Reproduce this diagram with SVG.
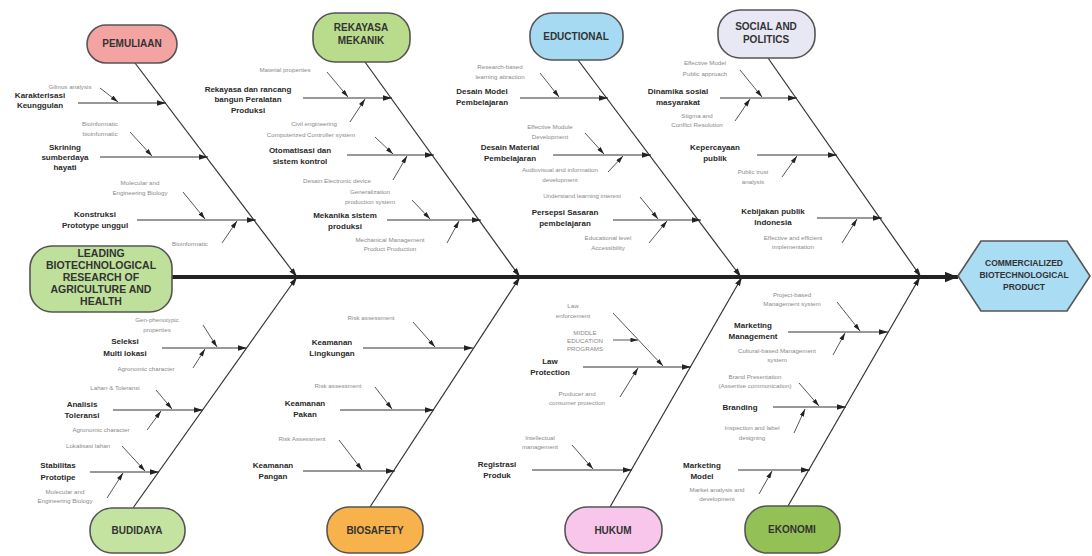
<svg xmlns="http://www.w3.org/2000/svg" width="1092" height="556" viewBox="0 0 1092 556">
<style>
.cat{stroke:#333;stroke-width:1.2;fill:none;marker-end:url(#ah)}
.bone{stroke:#333;stroke-width:1;fill:none;marker-end:url(#ah)}
.sub{stroke:#444;stroke-width:0.9;fill:none;marker-end:url(#as)}
.lbl{font-family:"Liberation Sans",Arial,sans-serif;font-weight:bold;font-size:8px;fill:#2a2a2a;text-anchor:middle}
.sl{font-family:"Liberation Sans",Arial,sans-serif;font-size:6.2px;fill:#8a8a8a;text-anchor:middle}
.nt{font-family:"Liberation Sans",Arial,sans-serif;font-weight:bold;font-size:10px;fill:#333;text-anchor:middle}
.node{stroke:#555;stroke-width:1.6}
</style>
<defs>
<marker id="ah" viewBox="0 0 10 6" refX="10" refY="3" markerWidth="9" markerHeight="5.4" markerUnits="userSpaceOnUse" orient="auto"><path d="M0,0L10,3L0,6z" fill="#222"/></marker>
<marker id="as" viewBox="0 0 10 6" refX="10" refY="3" markerWidth="8" markerHeight="4.5" markerUnits="userSpaceOnUse" orient="auto"><path d="M0,0L10,3L0,6z" fill="#222"/></marker>
<marker id="sp" viewBox="0 0 10 8" refX="10" refY="4" markerWidth="13" markerHeight="11" markerUnits="userSpaceOnUse" orient="auto"><path d="M0,0L10,4L0,8z" fill="#222"/></marker>
</defs>
<rect width="1092" height="556" fill="#fff"/>

<g id="connectors">
<line x1="172" y1="277" x2="958" y2="277" stroke="#222" stroke-width="4" marker-end="url(#sp)"/>
<line class="cat" x1="135" y1="63" x2="297" y2="277"/>
<line class="cat" x1="365" y1="62" x2="520" y2="277"/>
<line class="cat" x1="578" y1="60" x2="741" y2="277"/>
<line class="cat" x1="768" y1="58" x2="921" y2="277"/>
<line class="cat" x1="133" y1="508" x2="297" y2="277"/>
<line class="cat" x1="370" y1="507" x2="520" y2="277"/>
<line class="cat" x1="610" y1="507" x2="742" y2="277"/>
<line class="cat" x1="788" y1="506" x2="920" y2="277"/>

<line class="bone" x1="78" y1="103" x2="166" y2="103"/>
<line class="bone" x1="100" y1="157" x2="208" y2="157"/>
<line class="bone" x1="137" y1="220" x2="256" y2="220"/>
<line class="sub" x1="100" y1="88" x2="118" y2="102"/>
<line class="sub" x1="130" y1="132" x2="152" y2="156"/>
<line class="sub" x1="183" y1="192" x2="205" y2="219"/>
<line class="sub" x1="222" y1="243" x2="237" y2="221"/>

<line class="bone" x1="303" y1="98" x2="392" y2="98"/>
<line class="bone" x1="347" y1="155" x2="434" y2="155"/>
<line class="bone" x1="387" y1="220" x2="481" y2="220"/>
<line class="sub" x1="327" y1="72" x2="348" y2="97"/>
<line class="sub" x1="350" y1="122" x2="365" y2="99"/>
<line class="sub" x1="375" y1="137" x2="393" y2="154"/>
<line class="sub" x1="393" y1="180" x2="407" y2="156"/>
<line class="sub" x1="412" y1="200" x2="430" y2="219"/>
<line class="sub" x1="447" y1="243" x2="459" y2="221"/>

<line class="bone" x1="520" y1="98" x2="608" y2="98"/>
<line class="bone" x1="553" y1="155" x2="651" y2="155"/>
<line class="bone" x1="613" y1="220" x2="701" y2="220"/>
<line class="sub" x1="540" y1="73" x2="559" y2="97"/>
<line class="sub" x1="585" y1="133" x2="604" y2="154"/>
<line class="sub" x1="608" y1="172" x2="623" y2="156"/>
<line class="sub" x1="640" y1="197" x2="658" y2="219"/>
<line class="sub" x1="649" y1="243" x2="667" y2="221"/>

<line class="bone" x1="720" y1="98" x2="797" y2="98"/>
<line class="bone" x1="757" y1="155" x2="837" y2="155"/>
<line class="bone" x1="817" y1="218" x2="882" y2="218"/>
<line class="sub" x1="740" y1="70" x2="762" y2="97"/>
<line class="sub" x1="735" y1="121" x2="750" y2="99"/>
<line class="sub" x1="782" y1="177" x2="797" y2="156"/>
<line class="sub" x1="842" y1="243" x2="857" y2="219"/>

<line class="bone" x1="162" y1="348" x2="247" y2="348"/>
<line class="bone" x1="113" y1="410" x2="203" y2="410"/>
<line class="bone" x1="90" y1="472" x2="159" y2="472"/>
<line class="sub" x1="203" y1="325" x2="217" y2="347"/>
<line class="sub" x1="193" y1="368" x2="205" y2="349"/>
<line class="sub" x1="156" y1="390" x2="172" y2="409"/>
<line class="sub" x1="147" y1="430" x2="161" y2="411"/>
<line class="sub" x1="122" y1="446" x2="145" y2="471"/>
<line class="sub" x1="107" y1="498" x2="123" y2="473"/>

<line class="bone" x1="363" y1="348" x2="473" y2="348"/>
<line class="bone" x1="340" y1="410" x2="434" y2="410"/>
<line class="bone" x1="303" y1="471" x2="395" y2="471"/>
<line class="sub" x1="413" y1="322" x2="435" y2="347"/>
<line class="sub" x1="375" y1="387" x2="392" y2="409"/>
<line class="sub" x1="339" y1="440" x2="362" y2="470"/>

<line class="bone" x1="583" y1="367" x2="691" y2="367"/>
<line class="bone" x1="532" y1="470" x2="632" y2="470"/>
<line class="sub" x1="613" y1="313" x2="663" y2="366"/>
<line class="sub" x1="613" y1="340" x2="638" y2="340"/>
<line class="sub" x1="620" y1="397" x2="638" y2="368"/>
<line class="sub" x1="572" y1="445" x2="593" y2="469"/>

<line class="bone" x1="788" y1="332" x2="888" y2="332"/>
<line class="bone" x1="773" y1="407" x2="846" y2="407"/>
<line class="bone" x1="738" y1="470" x2="810" y2="470"/>
<line class="sub" x1="837" y1="302" x2="860" y2="331"/>
<line class="sub" x1="833" y1="355" x2="845" y2="333"/>
<line class="sub" x1="799" y1="383" x2="819" y2="406"/>
<line class="sub" x1="794" y1="433" x2="805" y2="409"/>
<line class="sub" x1="759" y1="494" x2="772" y2="471"/>
</g>

<g id="labels">
<text class="sl" x="70" y="89">Gilinus analysis</text>
<text class="lbl" x="40" y="98">Karakterisasi</text>
<text class="lbl" x="40" y="108">Keunggulan</text>
<text class="sl" x="100" y="126">Bioinformatic</text>
<text class="sl" x="100" y="136">bioinformatic</text>
<text class="lbl" x="65" y="150">Skrining</text>
<text class="lbl" x="65" y="160">sumberdaya</text>
<text class="lbl" x="65" y="170">hayati</text>
<text class="sl" x="140" y="185">Molecular and</text>
<text class="sl" x="140" y="195">Engineering Biology</text>
<text class="lbl" x="95" y="217">Konstruksi</text>
<text class="lbl" x="95" y="228">Prototype unggul</text>
<text class="sl" x="190" y="246">Bioinformatic</text>

<text class="sl" x="285" y="72">Material properties</text>
<text class="lbl" x="248" y="92">Rekayasa dan rancang</text>
<text class="lbl" x="248" y="102">bangun Peralatan</text>
<text class="lbl" x="248" y="113">Produksi</text>
<text class="sl" x="314" y="126">Civil engineering</text>
<text class="sl" x="311" y="137">Computerized Controller system</text>
<text class="lbl" x="300" y="153">Otomatisasi dan</text>
<text class="lbl" x="300" y="164">sistem kontrol</text>
<text class="sl" x="337" y="183">Desain Electronic device</text>
<text class="sl" x="370" y="194">Generalization</text>
<text class="sl" x="370" y="204">production system</text>
<text class="lbl" x="345" y="218">Mekanika sistem</text>
<text class="lbl" x="345" y="229">produksi</text>
<text class="sl" x="390" y="242">Mechanical Management</text>
<text class="sl" x="390" y="251">Product Production</text>

<text class="sl" x="500" y="69">Research-based</text>
<text class="sl" x="500" y="79">learning attraction</text>
<text class="lbl" x="482" y="94">Desain Model</text>
<text class="lbl" x="482" y="105">Pembelajaran</text>
<text class="sl" x="550" y="129">Effective Module</text>
<text class="sl" x="550" y="139">Development</text>
<text class="lbl" x="510" y="150">Desain Material</text>
<text class="lbl" x="510" y="161">Pembelajaran</text>
<text class="sl" x="560" y="172">Audiovisual and information</text>
<text class="sl" x="560" y="182">development</text>
<text class="sl" x="582" y="198">Understand learning interest</text>
<text class="lbl" x="565" y="215">Persepsi Sasaran</text>
<text class="lbl" x="565" y="226">pembelajaran</text>
<text class="sl" x="608" y="240">Educational level</text>
<text class="sl" x="608" y="250">Accessibility</text>

<text class="sl" x="705" y="65">Effective Model</text>
<text class="sl" x="705" y="76">Public approach</text>
<text class="lbl" x="678" y="94">Dinamika sosial</text>
<text class="lbl" x="678" y="105">masyarakat</text>
<text class="sl" x="697" y="118">Stigma and</text>
<text class="sl" x="697" y="127">Conflict Resolution</text>
<text class="lbl" x="715" y="150">Kepercayaan</text>
<text class="lbl" x="715" y="161">publik</text>
<text class="sl" x="753" y="174">Public trust</text>
<text class="sl" x="753" y="184">analysis</text>
<text class="lbl" x="773" y="214">Kebijakan publik</text>
<text class="lbl" x="773" y="225">Indonesia</text>
<text class="sl" x="793" y="240">Effective and efficient</text>
<text class="sl" x="793" y="249">implementation</text>

<text class="sl" x="157" y="322">Gen-phenotypic</text>
<text class="sl" x="157" y="332">properties</text>
<text class="lbl" x="125" y="344">Seleksi</text>
<text class="lbl" x="125" y="356">Multi lokasi</text>
<text class="sl" x="146" y="371">Agronomic character</text>
<text class="sl" x="115" y="390">Lahan &amp; Toleransi</text>
<text class="lbl" x="82" y="407">Analisis</text>
<text class="lbl" x="82" y="418">Toleransi</text>
<text class="sl" x="101" y="432">Agronomic character</text>
<text class="sl" x="88" y="448">Lokalisasi lahan</text>
<text class="lbl" x="58" y="468">Stabilitas</text>
<text class="lbl" x="58" y="480">Prototipe</text>
<text class="sl" x="65" y="494">Molecular and</text>
<text class="sl" x="65" y="503">Engineering Biology</text>

<text class="sl" x="371" y="320">Risk assessment</text>
<text class="lbl" x="332" y="345">Keamanan</text>
<text class="lbl" x="332" y="356">Lingkungan</text>
<text class="sl" x="338" y="388">Risk assessment</text>
<text class="lbl" x="305" y="406">Keamanan</text>
<text class="lbl" x="305" y="417">Pakan</text>
<text class="sl" x="302" y="441">Risk Assessment</text>
<text class="lbl" x="273" y="468">Keamanan</text>
<text class="lbl" x="273" y="479">Pangan</text>

<text class="sl" x="573" y="308">Law</text>
<text class="sl" x="573" y="318">enforcement</text>
<text class="sl" x="585" y="335">MIDDLE</text>
<text class="sl" x="585" y="343">EDUCATION</text>
<text class="sl" x="585" y="351">PROGRAMS</text>
<text class="lbl" x="550" y="364">Law</text>
<text class="lbl" x="550" y="375">Protection</text>
<text class="sl" x="577" y="396">Producer and</text>
<text class="sl" x="577" y="405">consumer protection</text>
<text class="sl" x="540" y="440">Intellectual</text>
<text class="sl" x="540" y="449">management</text>
<text class="lbl" x="497" y="467">Registrasi</text>
<text class="lbl" x="497" y="478">Produk</text>

<text class="sl" x="792" y="297">Project-based</text>
<text class="sl" x="792" y="306">Management system</text>
<text class="lbl" x="753" y="328">Marketing</text>
<text class="lbl" x="753" y="339">Management</text>
<text class="sl" x="777" y="353">Cultural-based Management</text>
<text class="sl" x="777" y="362">system</text>
<text class="sl" x="755" y="379">Brand Presentation</text>
<text class="sl" x="755" y="388">(Assertive communication)</text>
<text class="lbl" x="740" y="410">Branding</text>
<text class="sl" x="752" y="430">Inspection and label</text>
<text class="sl" x="752" y="440">designing</text>
<text class="lbl" x="702" y="468">Marketing</text>
<text class="lbl" x="702" y="479">Model</text>
<text class="sl" x="717" y="492">Market analysis and</text>
<text class="sl" x="717" y="501">development</text>
</g>

<g id="leading">
<rect class="node" x="30" y="246" width="142" height="66" rx="22" fill="#bfe09a"/>
<text class="nt" x="101" y="257" style="font-size:10.5px">LEADING</text>
<text class="nt" x="101" y="269" style="font-size:10.5px">BIOTECHNOLOGICAL</text>
<text class="nt" x="101" y="281" style="font-size:10.5px">RESEARCH OF</text>
<text class="nt" x="101" y="293" style="font-size:10.5px">AGRICULTURE AND</text>
<text class="nt" x="101" y="305" style="font-size:10.5px">HEALTH</text>
</g>
<g id="product">
<polygon class="node" points="958,276 981,241 1067,241 1090,276 1067,311 981,311" fill="#aadcf4"/>
<text class="nt" x="1024" y="266" style="font-size:8.5px">COMMERCIALIZED</text>
<text class="nt" x="1024" y="278" style="font-size:8.5px">BIOTECHNOLOGICAL</text>
<text class="nt" x="1024" y="290" style="font-size:8.5px">PRODUCT</text>
</g>
<g id="pemuliaan">
<rect class="node" x="87" y="25" width="90" height="38" rx="19" fill="#f4a3a3"/>
<text class="nt" x="132" y="47">PEMULIAAN</text>
</g>
<g id="rekayasa">
<rect class="node" x="313" y="13" width="97" height="49" rx="22" fill="#b9dc8c"/>
<text class="nt" x="361" y="31">REKAYASA</text>
<text class="nt" x="361" y="44">MEKANIK</text>
</g>
<g id="eductional">
<rect class="node" x="530" y="13" width="93" height="47" rx="22" fill="#a6daf3"/>
<text class="nt" x="576" y="40">EDUCTIONAL</text>
</g>
<g id="social">
<rect class="node" x="718" y="10" width="97" height="48" rx="22" fill="#e8e8f5"/>
<text class="nt" x="766" y="30">SOCIAL AND</text>
<text class="nt" x="766" y="43">POLITICS</text>
</g>
<g id="budidaya">
<rect class="node" x="90" y="508" width="95" height="45" rx="22" fill="#c4e3a0"/>
<text class="nt" x="137" y="534">BUDIDAYA</text>
</g>
<g id="biosafety">
<rect class="node" x="327" y="507" width="96" height="46" rx="22" fill="#f7b24c"/>
<text class="nt" x="375" y="534">BIOSAFETY</text>
</g>
<g id="hukum">
<rect class="node" x="565" y="507" width="97" height="46" rx="22" fill="#f7c6ea"/>
<text class="nt" x="613" y="534">HUKUM</text>
</g>
<g id="ekonomi">
<rect class="node" x="745" y="506" width="95" height="47" rx="22" fill="#93c156"/>
<text class="nt" x="792" y="533">EKONOMI</text>
</g>
</svg>
